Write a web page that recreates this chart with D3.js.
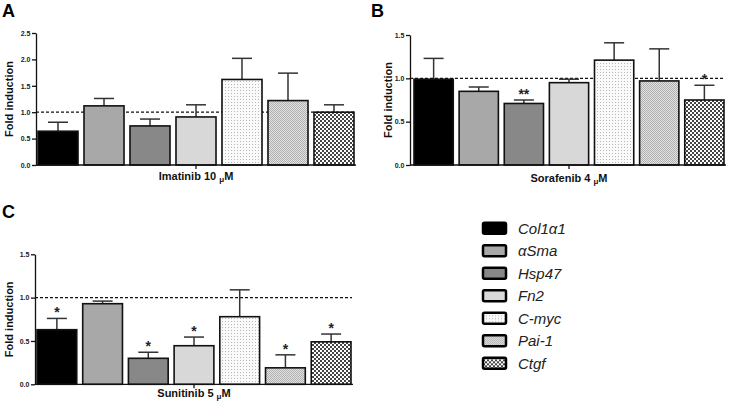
<!DOCTYPE html>
<meta charset="utf-8">
<style>
  body { margin: 0; background: #fff; }
  svg { font-family: Arial, "Liberation Sans", sans-serif; }
  .tick text { font-size: 7px; font-weight: bold; fill: #222; }
  .axis path, .axis line { stroke: #111; stroke-width: 1.3px; }
  .ylab, .xlab { font-size: 11px; font-weight: bold; fill: #111; }
  .letter { font-size: 18px; font-weight: bold; }
  .legend text { font-size: 15px; font-style: italic; fill: #222; }
</style>
<svg width="729" height="404"></svg>
<script src="https://d3js.org/d3.v7.min.js"></script>
<script>

var genes = ["Col1α1", "αSma", "Hsp47", "Fn2", "C-myc", "Pai-1", "Ctgf"];

var imatinib    = [0.64, 1.12, 0.74, 0.91, 1.62, 1.22, 1.00];
var imatinibErr = [0.17, 0.14, 0.13, 0.23, 0.40, 0.52, 0.14];
var imatinibSig = ["", "", "", "", "", "", ""];

var sorafenib    = [0.99, 0.85, 0.71, 0.95, 1.21, 0.97, 0.75];
var sorafenibErr = [0.24, 0.05, 0.04, 0.04, 0.20, 0.37, 0.17];
var sorafenibSig = ["", "", "**", "", "", "", "*"];

var sunitinib    = [0.63, 0.93, 0.30, 0.445, 0.78, 0.19, 0.49];
var sunitinibErr = [0.13, 0.03, 0.07, 0.10, 0.31, 0.15, 0.09];
var sunitinibSig = ["*", "", "*", "*", "", "*", "*"];

var svg = d3.select("svg");
var defs = svg.append("defs");

// fills, one per gene
var p;
p = defs.append("pattern").attr("id", "dots").attr("width", 3).attr("height", 3).attr("patternUnits", "userSpaceOnUse");
p.append("rect").attr("width", 3).attr("height", 3).attr("fill", "#fafafa");
p.append("rect").attr("width", 1).attr("height", 1).attr("fill", "#b8b8b8");

p = defs.append("pattern").attr("id", "fine").attr("width", 2).attr("height", 2).attr("patternUnits", "userSpaceOnUse");
p.append("rect").attr("width", 2).attr("height", 2).attr("fill", "#e2e2e2");
p.append("rect").attr("width", 1).attr("height", 1).attr("fill", "#b0b0b0");
p.append("rect").attr("x", 1).attr("y", 1).attr("width", 1).attr("height", 1).attr("fill", "#b0b0b0");

p = defs.append("pattern").attr("id", "check").attr("width", 4).attr("height", 4).attr("patternUnits", "userSpaceOnUse");
p.append("rect").attr("width", 4).attr("height", 4).attr("fill", "#fff");
p.append("rect").attr("width", 2).attr("height", 2).attr("fill", "#444");
p.append("rect").attr("x", 2).attr("y", 2).attr("width", 2).attr("height", 2).attr("fill", "#444");

var fills = ["#000", "#a8a8a8", "#888888", "#d8d8d8", "url(#dots)", "url(#fine)", "url(#check)"];

function panel(cfg) {
  var x = d3.scaleBand().domain(genes).range(cfg.xr).paddingInner(0.13).paddingOuter(0);
  var y = d3.scaleLinear().domain([0, cfg.ymax]).range(cfg.yr);
  var g = svg.append("g");

  // dashed reference line at 1.0
  g.append("line")
    .attr("x1", cfg.ax).attr("x2", cfg.xr[1] + 1)
    .attr("y1", y(1)).attr("y2", y(1))
    .attr("stroke", "#111").attr("stroke-width", 1.3)
    .attr("stroke-dasharray", "3,2");

  var data = genes.map(function(d, i) {
    return { gene: d, v: cfg.values[i], e: cfg.errs[i], s: cfg.sig[i], i: i };
  });

  // error bars
  var eb = g.selectAll(".err").data(data).enter().append("g");
  eb.append("line")
    .attr("x1", function(d) { return x(d.gene) + x.bandwidth() / 2; })
    .attr("x2", function(d) { return x(d.gene) + x.bandwidth() / 2; })
    .attr("y1", function(d) { return y(d.v); })
    .attr("y2", function(d) { return y(d.v + d.e); })
    .attr("stroke", "#333").attr("stroke-width", 1.5);
  eb.append("line")
    .attr("x1", function(d) { return x(d.gene) + x.bandwidth() / 2 - 10; })
    .attr("x2", function(d) { return x(d.gene) + x.bandwidth() / 2 + 10; })
    .attr("y1", function(d) { return y(d.v + d.e); })
    .attr("y2", function(d) { return y(d.v + d.e); })
    .attr("stroke", "#333").attr("stroke-width", 1.5);

  g.selectAll(".bar").data(data).enter().append("rect")
    .attr("x", function(d) { return x(d.gene); })
    .attr("y", function(d) { return y(d.v); })
    .attr("width", x.bandwidth())
    .attr("height", function(d) { return y(0) - y(d.v); })
    .attr("fill", function(d) { return fills[d.i]; })
    .attr("stroke", "#111").attr("stroke-width", 1.6);

  g.selectAll(".sig").data(data).enter().append("text")
    .attr("x", function(d) { return x(d.gene) + x.bandwidth() / 2; })
    .attr("y", function(d) { return y(d.v + d.e) - 1; })
    .attr("text-anchor", "middle")
    .attr("font-size", 14).attr("font-weight", "bold").attr("fill", "#222")
    .text(function(d) { return d.s; });

  // axes
  g.append("g").attr("class", "axis")
    .attr("transform", "translate(" + cfg.ax + ",0)")
    .call(d3.axisLeft(y).tickValues(d3.range(0, cfg.ymax + 0.01, 0.5)).tickFormat(d3.format(".1f")).tickSize(4).tickSizeOuter(0))
    .call(function(a) { a.selectAll("text").attr("dx", "0.2em"); });

  var xa = g.append("g").attr("class", "axis");
  xa.append("line").attr("x1", cfg.ax).attr("x2", cfg.xr[1] + 2)
    .attr("y1", y(0)).attr("y2", y(0)).attr("stroke", "#111").attr("stroke-width", 1.3);
  var mid = (cfg.xr[0] + cfg.xr[1]) / 2;
  xa.append("line").attr("x1", mid).attr("x2", mid)
    .attr("y1", y(0)).attr("y2", y(0) + 4).attr("stroke", "#111").attr("stroke-width", 1.3);

  var t = g.append("text").attr("class", "xlab")
    .attr("x", mid).attr("y", cfg.titleY).attr("text-anchor", "middle");
  t.append("tspan").text(cfg.title + " ");
  t.append("tspan").attr("font-size", 8).attr("dy", 2).text("μ");
  t.append("tspan").attr("dy", -2).text("M");

  g.append("text").attr("class", "ylab")
    .attr("transform", "translate(" + cfg.ylx + "," + ((cfg.yr[0] + cfg.yr[1]) / 2) + ") rotate(-90)")
    .attr("text-anchor", "middle").attr("dy", "0.35em")
    .text("Fold induction");

  g.append("text").attr("class", "letter")
    .attr("x", cfg.lx).attr("y", cfg.ly).text(cfg.letter);
}

panel({ letter: "A", lx: 2, ly: 17, values: imatinib, errs: imatinibErr, sig: imatinibSig,
        ymax: 2.5, yr: [165, 33], xr: [38, 354], ax: 36, ylx: 9,
        title: "Imatinib 10", titleY: 180 });
panel({ letter: "B", lx: 371, ly: 17, values: sorafenib, errs: sorafenibErr, sig: sorafenibSig,
        ymax: 1.5, yr: [165, 35], xr: [414, 724], ax: 410, ylx: 388,
        title: "Sorafenib 4", titleY: 182 });
panel({ letter: "C", lx: 2, ly: 218, values: sunitinib, errs: sunitinibErr, sig: sunitinibSig,
        ymax: 1.5, yr: [384.3, 254.3], xr: [37, 351], ax: 35, ylx: 9,
        title: "Sunitinib 5", titleY: 397 });

// legend
var leg = svg.append("g").attr("class", "legend")
  .selectAll("g").data(genes).enter().append("g")
  .attr("transform", function(d, i) { return "translate(483," + (228.3 + i * 22.5) + ")"; });
leg.append("rect")
  .attr("x", 0).attr("y", -5.5).attr("width", 23).attr("height", 11).attr("rx", 1.5)
  .attr("fill", function(d, i) { return fills[i]; })
  .attr("stroke", "#000").attr("stroke-width", 2.5);
leg.append("text").attr("x", 35).attr("dy", "0.36em").text(function(d) { return d; });

</script>
